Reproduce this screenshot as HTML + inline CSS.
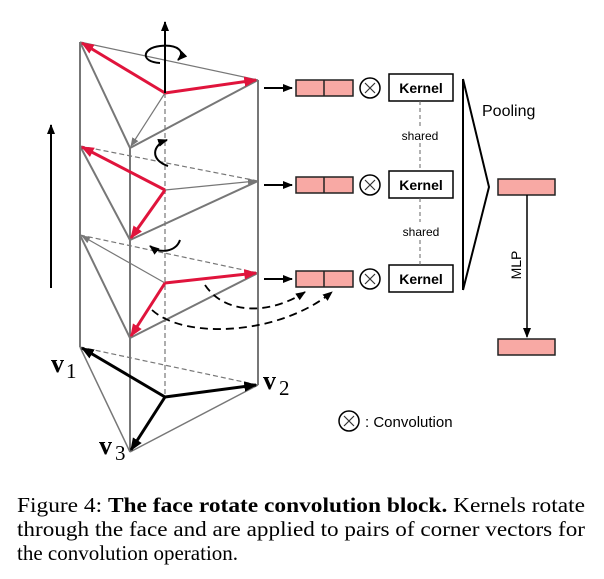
<!DOCTYPE html>
<html><head><meta charset="utf-8"><style>
html,body{margin:0;padding:0;background:#fff;}
svg{display:block;}
</style></head><body>
<svg width="604" height="579" viewBox="0 0 604 579" xmlns="http://www.w3.org/2000/svg">
<defs>
<marker id="ab" viewBox="0 0 10 10" refX="9" refY="5" markerWidth="10" markerHeight="10" orient="auto" markerUnits="userSpaceOnUse"><path d="M0,1 L10,5 L0,9 z" fill="#000"/></marker>
<marker id="ag" viewBox="0 0 10 10" refX="9" refY="5" markerWidth="9" markerHeight="9" orient="auto" markerUnits="userSpaceOnUse"><path d="M0,1 L10,5 L0,9 z" fill="#777"/></marker>
<marker id="ar2" viewBox="0 0 10 10" refX="9" refY="5" markerWidth="13" markerHeight="13" orient="auto" markerUnits="userSpaceOnUse"><path d="M0,1 L10,5 L0,9 z" fill="#e0143c"/></marker>
<marker id="ab2" viewBox="0 0 10 10" refX="9" refY="5" markerWidth="13" markerHeight="13" orient="auto" markerUnits="userSpaceOnUse"><path d="M0,1 L10,5 L0,9 z" fill="#000"/></marker>
</defs>
<g stroke="#777" stroke-width="2" fill="none">
<line x1="80" y1="42" x2="80" y2="347"/>
<line x1="130" y1="148" x2="130" y2="452"/>
<line x1="258" y1="80" x2="258" y2="385"/>
<line x1="80" y1="42" x2="130" y2="148"/><line x1="130" y1="148" x2="258" y2="80"/>
<line x1="80" y1="146" x2="130" y2="240"/><line x1="130" y1="240" x2="258" y2="181"/>
<line x1="80" y1="235" x2="130" y2="338"/><line x1="130" y1="338" x2="258" y2="273"/>
<line x1="80" y1="347" x2="130" y2="452" stroke-width="1.5"/><line x1="130" y1="452" x2="258" y2="385" stroke-width="1.5"/>
</g>
<g stroke="#777" stroke-width="1.2" fill="none">
<line x1="80" y1="42" x2="258" y2="80"/>
<line x1="80" y1="146" x2="258" y2="181" stroke-dasharray="5,3"/>
<line x1="80" y1="235" x2="258" y2="273" stroke-dasharray="5,3"/>
<line x1="80" y1="347" x2="258" y2="385" stroke-dasharray="5,3"/>
<line x1="165" y1="93" x2="165" y2="397" stroke-dasharray="5,3"/>
<line x1="165" y1="93" x2="131" y2="146" marker-end="url(#ag)"/>
<line x1="165" y1="190" x2="256" y2="181" marker-end="url(#ag)"/>
<line x1="165" y1="283" x2="82" y2="236" marker-end="url(#ag)"/>
</g>
<g stroke="#e0143c" stroke-width="3" fill="none">
<line x1="165" y1="93" x2="82" y2="43" marker-end="url(#ar2)"/>
<line x1="165" y1="93" x2="256" y2="80" marker-end="url(#ar2)"/>
<line x1="165" y1="190" x2="82" y2="147" marker-end="url(#ar2)"/>
<line x1="165" y1="190" x2="131" y2="238" marker-end="url(#ar2)"/>
<line x1="165" y1="283" x2="256" y2="273" marker-end="url(#ar2)"/>
<line x1="165" y1="283" x2="131" y2="336" marker-end="url(#ar2)"/>
</g>
<g stroke="#000" stroke-width="3" fill="none">
<line x1="165" y1="397" x2="82" y2="348" marker-end="url(#ab2)"/>
<line x1="165" y1="397" x2="256" y2="385" marker-end="url(#ab2)"/>
<line x1="165" y1="397" x2="131" y2="450" marker-end="url(#ab2)"/>
</g>
<g stroke="#000" stroke-width="2" fill="none">
<line x1="165" y1="93" x2="165" y2="22" marker-end="url(#ab)"/>
<line x1="51" y1="288" x2="51" y2="125" marker-end="url(#ab)"/>
<path d="M160,63 C140,62 142,48 160,46 C178,44 186,52 178,60" marker-end="url(#ab)"/>
<path d="M168,166 C150,160 152,145 167,140" marker-end="url(#ab)"/>
<path d="M180,240 C176,252 160,254 150,246" marker-end="url(#ab)"/>
</g>
<g stroke="#000" stroke-width="1.8" fill="none" stroke-dasharray="8,5">
<path d="M205,285 C225,315 270,315 305,292" marker-end="url(#ab)"/>
<path d="M152,310 C185,340 280,335 332,292" marker-end="url(#ab)"/>
</g>
<g stroke="#000" stroke-width="2">
<line x1="264" y1="88" x2="292" y2="88" marker-end="url(#ab)"/>
<line x1="264" y1="185" x2="292" y2="185" marker-end="url(#ab)"/>
<line x1="264" y1="279" x2="292" y2="279" marker-end="url(#ab)"/>
</g>
<g stroke="#222" stroke-width="1.5" fill="#f8a9a4">
<rect x="296" y="80" width="57" height="16"/><line x1="324" y1="80" x2="324" y2="96"/>
<rect x="296" y="177" width="57" height="16"/><line x1="324" y1="177" x2="324" y2="193"/>
<rect x="296" y="271" width="57" height="16"/><line x1="324" y1="271" x2="324" y2="287"/>
<rect x="498" y="179" width="57" height="16"/>
<rect x="498" y="339" width="57" height="16"/>
</g>
<g stroke="#000" stroke-width="1.5" fill="#fff">
<circle cx="370" cy="88" r="10"/><circle cx="370" cy="185" r="10"/><circle cx="370" cy="279" r="10"/><circle cx="349" cy="421" r="10"/>
<rect x="389" y="74" width="64" height="27"/><rect x="389" y="171" width="64" height="27"/><rect x="389" y="265" width="64" height="27"/>
</g>
<g stroke="#333" stroke-width="1.2">
<path d="M365,83 l10,10 M375,83 l-10,10"/><path d="M365,180 l10,10 M375,180 l-10,10"/><path d="M365,274 l10,10 M375,274 l-10,10"/><path d="M344,416 l10,10 M354,416 l-10,10"/>
</g>
<g stroke="#666" stroke-width="1" stroke-dasharray="4,3">
<line x1="420" y1="101" x2="420" y2="127"/><line x1="420" y1="143" x2="420" y2="171"/>
<line x1="420" y1="198" x2="420" y2="222"/><line x1="420" y1="240" x2="420" y2="265"/>
</g>
<path d="M463,79 L463,290 M463,79 L489,187 L463,290" stroke="#000" stroke-width="2" fill="none"/>
<line x1="527" y1="195" x2="527" y2="337" stroke="#000" stroke-width="1.5" marker-end="url(#ab)"/>
<g font-family="Liberation Sans, sans-serif" fill="#000">
<text x="421" y="93" font-size="14" font-weight="bold" text-anchor="middle">Kernel</text>
<text x="421" y="190" font-size="14" font-weight="bold" text-anchor="middle">Kernel</text>
<text x="421" y="284" font-size="14" font-weight="bold" text-anchor="middle">Kernel</text>
<text x="420" y="140" font-size="12" text-anchor="middle">shared</text>
<text x="421" y="236" font-size="12" text-anchor="middle">shared</text>
<text x="482" y="116" font-size="16">Pooling</text>
<text x="521" y="265" font-size="14" text-anchor="middle" transform="rotate(-90 521 265)">MLP</text>
<text x="365" y="427" font-size="15">: Convolution</text>
</g>
<g font-family="Liberation Serif, serif" fill="#000">
<text x="51" y="372" font-size="26" font-weight="bold">v</text><text x="66" y="378" font-size="21">1</text>
<text x="263" y="389" font-size="26" font-weight="bold">v</text><text x="279" y="395" font-size="21">2</text>
<text x="99" y="454" font-size="26" font-weight="bold">v</text><text x="115" y="460" font-size="21">3</text>
<text x="17" y="512" font-size="21" textLength="568" lengthAdjust="spacingAndGlyphs">Figure 4: <tspan font-weight="bold">The face rotate convolution block.</tspan> Kernels rotate</text>
<text x="17" y="536" font-size="21" textLength="568" lengthAdjust="spacingAndGlyphs">through the face and are applied to pairs of corner vectors for</text>
<text x="17" y="560" font-size="21">the convolution operation.</text>
</g>
</svg>
</body></html>
